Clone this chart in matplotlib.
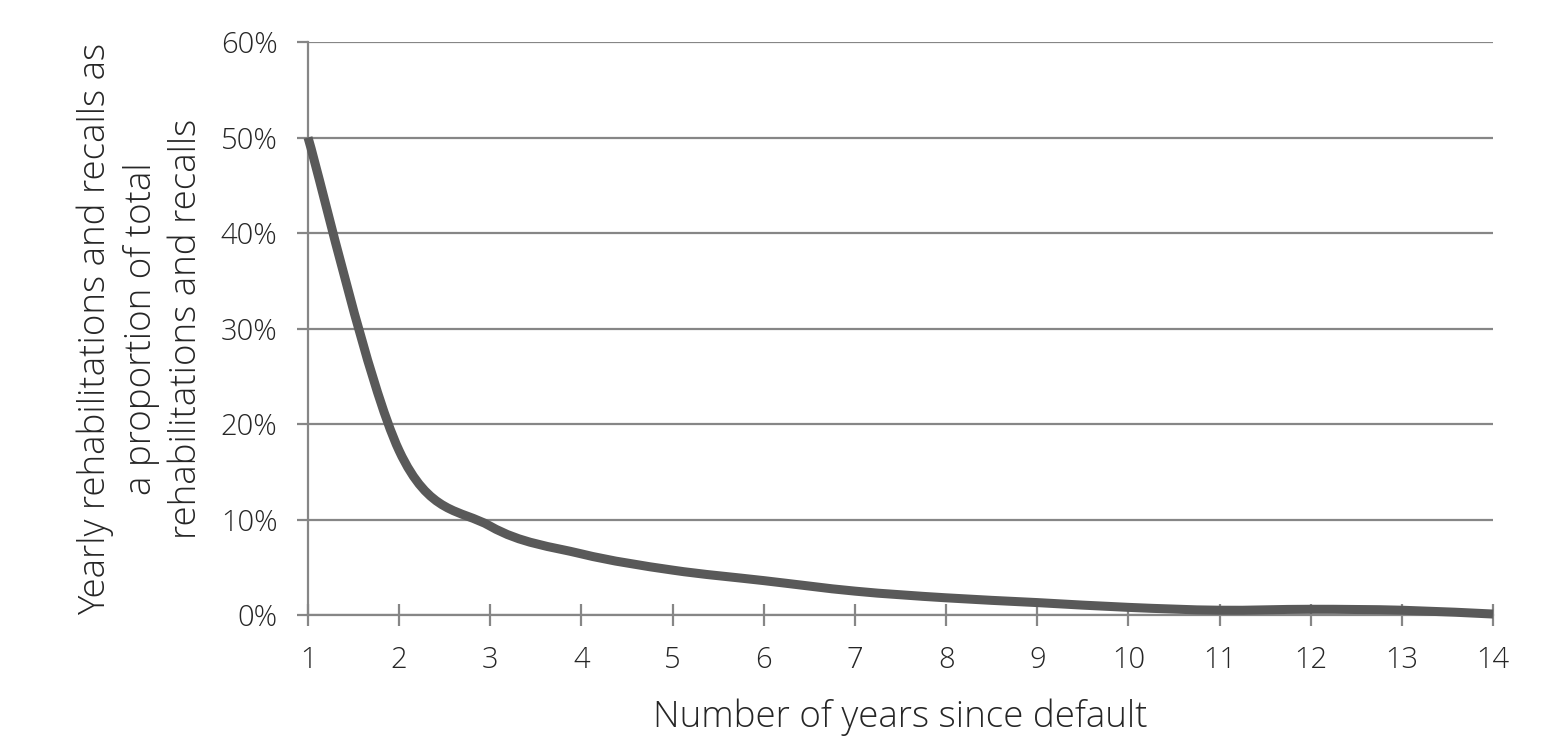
import matplotlib
matplotlib.use("Agg")
import matplotlib.pyplot as plt
from matplotlib.path import Path
from matplotlib.patches import PathPatch
from matplotlib.ticker import FuncFormatter
from matplotlib import font_manager as fm

years = [1, 2, 3, 4, 5, 6, 7, 8, 9, 10, 11, 12, 13, 14]
share = [0.50, 0.172, 0.093, 0.064, 0.047, 0.036, 0.025, 0.018, 0.013, 0.008, 0.005, 0.006, 0.005, 0.001]
y_ticks = [0, 0.1, 0.2, 0.3, 0.4, 0.5, 0.6]
x_label = "Number of years since default"
y_label = "Yearly rehabilitations and recalls as\na proportion of total\nrehabilitations and recalls"


def pick_font():
    prefs = [("Open Sans", 300), ("Noto Sans", 300), ("Lato", 300), ("Roboto", 300),
             ("Open Sans", 400)]
    for name, w in prefs:
        for f in fm.fontManager.ttflist:
            if f.name == name and f.weight == w and f.style == "normal" and f.stretch == "normal":
                return f.fname
    return None


fname = pick_font()
fp_tick = fm.FontProperties(fname=fname, size=21) if fname else fm.FontProperties(size=21)
fp_lab = fm.FontProperties(fname=fname, size=26.5) if fname else fm.FontProperties(size=26.5)

fig = plt.figure(figsize=(15.57, 7.52), dpi=100)
ax = fig.add_axes([308/1557, 1-615/752, (1493-308)/1557, (615-42)/752])

grid_c = "#868686"
ax.set_xlim(years[0], years[-1])
ax.set_ylim(y_ticks[0], y_ticks[-1])
ax.set_yticks(y_ticks)
ax.set_xticks(years)
ax.yaxis.set_major_formatter(FuncFormatter(lambda v, p: f"{v*100:.0f}%"))
ax.grid(axis="y", color=grid_c, linewidth=1.6)
ax.set_axisbelow(True)
for s in ("top", "right"):
    ax.spines[s].set_visible(False)
for s in ("left", "bottom"):
    ax.spines[s].set_color(grid_c)
    ax.spines[s].set_linewidth(1.6)
ax.tick_params(axis="y", direction="out", length=8, width=1.6, color=grid_c,
               labelcolor="#262626", pad=14)
ax.tick_params(axis="x", direction="inout", length=16, width=1.6, color=grid_c,
               labelcolor="#262626", pad=14)
for lbl in ax.get_xticklabels() + ax.get_yticklabels():
    lbl.set_fontproperties(fp_tick)

# smooth curve (Excel-style) via cubic Bezier segments through the data points
pts = list(zip(years, share))
verts = [pts[0]]
codes = [Path.MOVETO]
n = len(pts)
for i in range(n - 1):
    p0 = pts[i - 1] if i > 0 else pts[i]
    p1 = pts[i]
    p2 = pts[i + 1]
    p3 = pts[i + 2] if i + 2 < n else pts[i + 1]
    c1 = (p1[0] + (p2[0] - p0[0]) / 6, p1[1] + (p2[1] - p0[1]) / 6)
    c2 = (p2[0] - (p3[0] - p1[0]) / 6, p2[1] - (p3[1] - p1[1]) / 6)
    verts += [c1, c2, p2]
    codes += [Path.CURVE4] * 3
ax.add_patch(PathPatch(Path(verts, codes), facecolor="none", edgecolor="#595959",
                       linewidth=6.5, capstyle="butt", joinstyle="round", clip_on=False, zorder=3))

ax.set_xlabel(x_label, fontproperties=fp_lab, color="#262626", labelpad=17)
ax.set_ylabel(y_label, fontproperties=fp_lab, color="#262626", labelpad=11, linespacing=1.3)

fig.savefig("out.png", dpi=100, facecolor="white")
